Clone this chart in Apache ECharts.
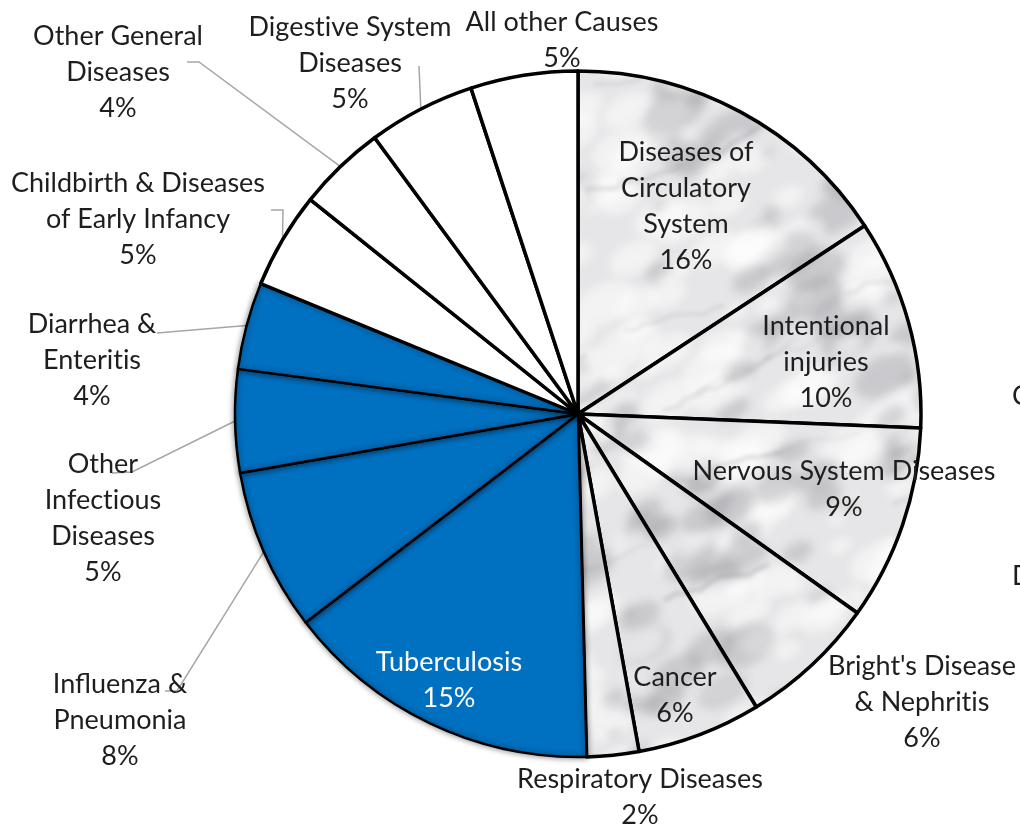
<!DOCTYPE html>
<html>
<head>
<meta charset="utf-8">
<script src="https://cdn.jsdelivr.net/npm/echarts@6/dist/echarts.min.js"></script>
<style>
  html, body { margin: 0; padding: 0; background: #fff; }
  #chart { width: 1020px; height: 825px; }
</style>
</head>
<body>
<div id="chart"></div>
<script>
// categories, clockwise from 12 o'clock
const categories = [
  'Diseases of Circulatory System', 'Intentional injuries', 'Nervous System Diseases',
  "Bright's Disease & Nephritis", 'Cancer', 'Respiratory Diseases', 'Tuberculosis',
  'Influenza & Pneumonia', 'Other Infectious Diseases', 'Diarrhea & Enteritis',
  'Childbirth & Diseases of Early Infancy', 'Other General Diseases',
  'Digestive System Diseases', 'All other Causes'
]
// share of deaths (%)
const values = [15.75, 9.9, 9.2, 6.45, 5.85, 2.45, 15.0, 7.65, 4.85, 4.1, 4.55, 4.15, 5.05, 5.05]
// wrapped label text
const labelText = [
  'Diseases of\nCirculatory\nSystem', 'Intentional\ninjuries', 'Nervous System Diseases',
  "Bright's Disease\n& Nephritis", 'Cancer', 'Respiratory Diseases', 'Tuberculosis',
  'Influenza &\nPneumonia', 'Other\nInfectious\nDiseases', 'Diarrhea &\nEnteritis',
  'Childbirth & Diseases\nof Early Infancy', 'Other General\nDiseases',
  'Digestive System\nDiseases', 'All other Causes'
]
// fill group: m = marble, b = blue, w = white
const groups = ['m', 'm', 'm', 'm', 'm', 'm', 'b', 'b', 'b', 'b', 'w', 'w', 'w', 'w']

// layout
const CX = 578
const CY = 414
const R = 343
// label block centres
const labelPos = [
  [686, 206], [826, 362], [844, 489], [922, 702], [675, 695], [640, 797], [449, 680],
  [120, 720], [103, 518], [92, 360], [138, 219], [118, 72], [350, 63], [562, 40]
]
// leader line points from label side toward slice (edge point is computed)
const leaders = {
  7: [[165, 691], [177, 691]],
  8: [[112, 473], [132, 472]],
  9: [[157, 333], [157, 333]],
  10: [[271, 210], [283, 210]],
  11: [[187, 62], [199, 62]],
  12: [[419, 66], [419, 66]]
}

// marble-like fill, drawn once over the whole chart area
function marble () {
  const w = 1020
  const h = 825
  const c = document.createElement('canvas')
  c.width = w
  c.height = h
  const g = c.getContext('2d')
  g.fillStyle = '#e6e6e8'
  g.fillRect(0, 0, w, h)
  const hash = n => {
    const s = Math.sin(n * 127.1 + 311.7) * 43758.5453
    return s - Math.floor(s)
  }
  g.filter = 'blur(5px)'
  for (let k = 0; k < 900; k++) {
    const x = hash(k) * w
    const y = hash(k + 1000) * h
    const r = 4 + hash(k + 2000) * 16
    g.beginPath()
    g.ellipse(x, y, r * 1.7, r, -0.5, 0, Math.PI * 2)
    g.fillStyle = hash(k + 3000) < 0.6 ? 'rgba(255,255,255,0.5)' : 'rgba(140,140,145,0.3)'
    g.fill()
  }
  g.filter = 'blur(2px)'
  for (let k = 0; k < 70; k++) {
    let x = hash(k + 4000) * w
    let y = hash(k + 5000) * h
    g.beginPath()
    g.moveTo(x, y)
    for (let s = 0; s < 10; s++) {
      x += 6 + hash(k * 13 + s) * 10
      y -= 2 + (hash(k * 17 + s + 7) - 0.3) * 10
      g.lineTo(x, y)
    }
    g.strokeStyle = 'rgba(130,130,135,' + (0.12 + hash(k + 6000) * 0.2) + ')'
    g.lineWidth = 1.5 + hash(k + 7000) * 3
    g.stroke()
  }
  return c
}

const chart = echarts.init(document.getElementById('chart'))
const marbleImg = marble()

const total = values.reduce((a, b) => a + b, 0)
const mids = []
let acc = 0
values.forEach(v => {
  mids.push((acc + v / 2) / total)
  acc += v
})

const data = categories.map((name, i) => {
  const g = groups[i]
  return {
    name: name,
    value: values[i],
    itemStyle: g === 'b'
      ? { color: '#0070C0', borderColor: '#000', borderWidth: 2.5, shadowBlur: 6, shadowColor: 'rgba(0,0,0,0.45)' }
      : { color: g === 'm' ? { image: marbleImg, repeat: 'no-repeat' } : '#ffffff', borderColor: '#000', borderWidth: 3.5 },
    label: { color: i === 6 ? '#ffffff' : '#1e1e1e' },
    labelLine: { show: !!leaders[i] }
  }
})

chart.setOption({
  animation: false,
  textStyle: { fontFamily: 'Lato' },
  series: [
    {
      type: 'pie',
      center: [CX, CY],
      radius: R,
      startAngle: 90,
      clockwise: true,
      avoidLabelOverlap: false,
      label: {
        show: true,
        position: 'outside',
        fontFamily: 'Lato',
        fontSize: 27,
        lineHeight: 36,
        align: 'center',
        // zero-width non-joiner keeps Lato from drawing a "ti" ligature
        formatter: p => (labelText[p.dataIndex] + '\n' + Math.round(p.percent) + '%').replace(/ti/g, 't\u200Ci')
      },
      labelLine: {
        show: false,
        lineStyle: { color: '#a6a6a6', width: 1.5 }
      },
      labelLayout: function (params) {
        const i = params.dataIndex
        const out = {
          x: labelPos[i][0],
          y: labelPos[i][1],
          align: 'center',
          verticalAlign: 'middle'
        }
        if (leaders[i]) {
          const a = mids[i] * Math.PI * 2
          const edge = [CX + R * Math.sin(a), CY - R * Math.cos(a)]
          out.labelLinePoints = [edge, leaders[i][1], leaders[i][0]]
        }
        return out
      },
      data: data
    }
  ],
  graphic: [
    { type: 'text', left: 1012, top: 383, style: { text: 'C', fontFamily: 'Lato', fontSize: 27, fill: '#1e1e1e' } },
    { type: 'text', left: 1012, top: 563, style: { text: 'D', fontFamily: 'Lato', fontSize: 27, fill: '#1e1e1e' } }
  ]
})
</script>
</body>
</html>
